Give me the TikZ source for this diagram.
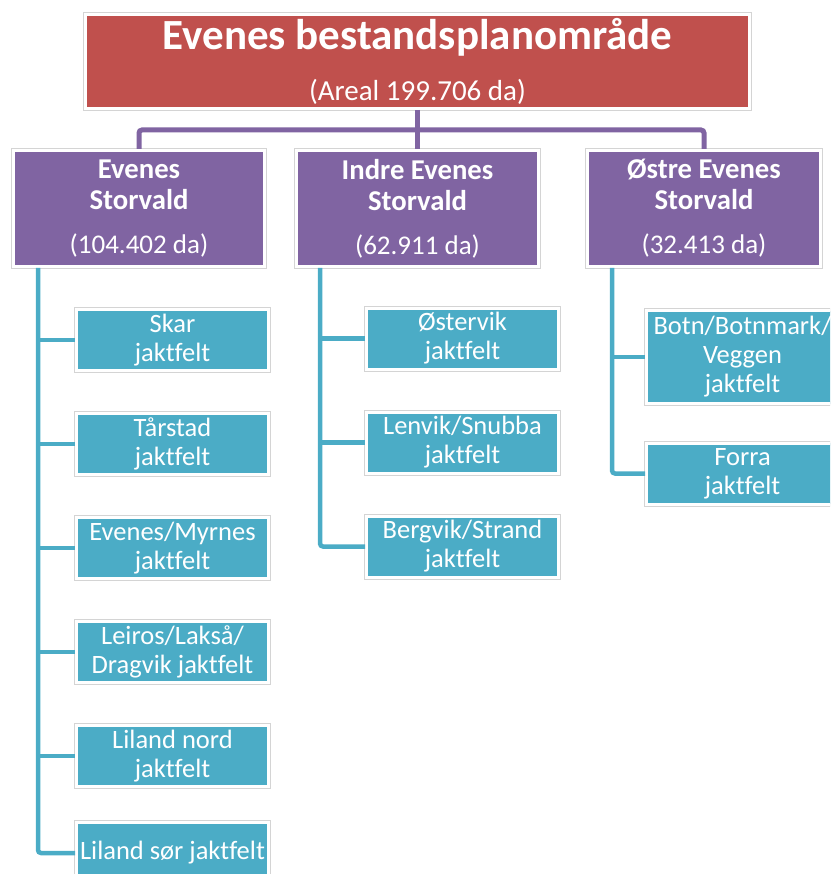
\documentclass[tikz,border=0pt]{standalone}
\usepackage{fontspec}
\setmainfont{Carlito}[Ligatures=NoCommon]
\definecolor{areared}{HTML}{C0504D}
\definecolor{valdpurple}{HTML}{8064A2}
\definecolor{feltteal}{HTML}{4BACC6}
\definecolor{rimgray}{HTML}{D4D4D4}
\newcommand{\valdname}[1]{{\fontsize{28.7}{31}\selectfont\bfseries #1}}
\tikzset{
  box/.style={draw=white, line width=3pt, text=white, align=center, inner sep=0pt,
    preaction={draw=rimgray, line width=5pt}},
  areabox/.style={box, fill=areared, minimum width=664pt, minimum height=94pt},
  valdbox/.style={box, fill=valdpurple, minimum height=116pt, font=\fontsize{27}{31}\selectfont},
  feltbox/.style={box, fill=feltteal, minimum width=192pt, minimum height=61pt, font=\fontsize{26.5}{29}\selectfont},
  valdline/.style={draw=valdpurple, line width=5pt},
  feltline/.style={draw=feltteal, line width=4.5pt},
}
\begin{document}
\begin{tikzpicture}[x=1pt,y=-1pt]
    \clip (0,0) rectangle (830,874);
    \node[areabox] (top) at (417.5,61.5) {\fontsize{43}{46}\selectfont\bfseries Evenes bestandsplanområde\\[22pt]\normalfont\fontsize{29}{30}\selectfont(Areal 199.706 da)};
    \node[valdbox, minimum width=251pt] (evs) at (139,208.5) {\valdname{Evenes}\\\valdname{Storvald}\\[13pt](104.402 da)};
    \node[valdbox, minimum width=242pt] (ies) at (417.5,208.5) {\valdname{Indre Evenes}\\\valdname{Storvald}\\[13pt](62.911 da)};
    \node[valdbox, minimum width=233pt] (oes) at (704,208.5) {\valdname{Østre Evenes}\\\valdname{Storvald}\\[13pt](32.413 da)};
    \node[feltbox] (skar)    at (172.5,340) {Skar\\jaktfelt};
    \node[feltbox] (tarstad) at (172.5,444) {Tårstad\\jaktfelt};
    \node[feltbox] (myrnes)  at (172.5,548) {Evenes/Myrnes\\jaktfelt};
    \node[feltbox] (leiros)  at (172.5,652) {Leiros/Lakså/\\Dragvik jaktfelt};
    \node[feltbox] (lilnord) at (172.5,756) {Liland nord\\jaktfelt};
    \node[feltbox] (lilsor)  at (172.5,853) {Liland sør jaktfelt};
    \node[feltbox] (ostervik) at (462.5,338.5) {Østervik\\jaktfelt};
    \node[feltbox] (lenvik)   at (462.5,442.5) {Lenvik/Snubba\\jaktfelt};
    \node[feltbox] (bergvik)  at (462.5,546.5) {Bergvik/Strand\\jaktfelt};
    \node[feltbox, minimum height=93pt] (botn) at (742.5,357) {Botn/Botnmark/\\Veggen\\jaktfelt};
    \node[feltbox] (forra) at (742.5,473.5) {Forra\\jaktfelt};
    \coordinate (bus) at (417.5,130);
    \draw[valdline, rounded corners=3pt] (evs.north) |- (bus) -| (oes.north);
    \draw[valdline] (top.south) -- (ies.north);
    \coordinate (evsbar) at ([xshift=26pt]evs.south west);
    \coordinate (iesbar) at ([xshift=25pt]ies.south west);
    \coordinate (oesbar) at ([xshift=26pt]oes.south west);
    \foreach \n in {skar,tarstad,myrnes,leiros,lilnord}
      \draw[feltline] (evsbar |- \n.west) -- (\n.west);
    \draw[feltline, rounded corners=3pt] (evsbar) |- (lilsor.west);
    \foreach \n in {ostervik,lenvik}
      \draw[feltline] (iesbar |- \n.west) -- (\n.west);
    \draw[feltline, rounded corners=3pt] (iesbar) |- (bergvik.west);
    \draw[feltline] (oesbar |- botn.west) -- (botn.west);
    \draw[feltline, rounded corners=3pt] (oesbar) |- (forra.west);
\end{tikzpicture}
\end{document}
